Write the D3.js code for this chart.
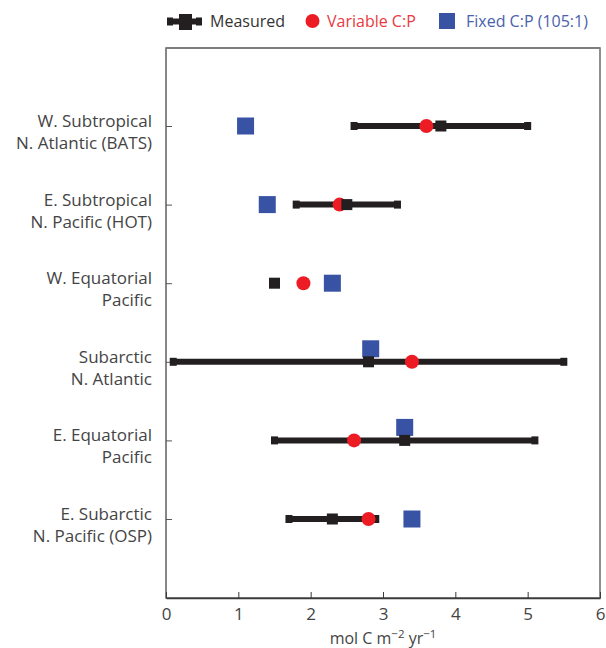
<!DOCTYPE html>
<html><head><meta charset="utf-8">
<script src="https://cdn.jsdelivr.net/npm/d3@7"></script>
<style>body{margin:0;background:#fff}svg{display:block}text{font-family:"Open Sans",sans-serif}</style>
</head><body><svg id="c" width="606" height="648"></svg>
<script>
const categories = [
  ["W. Subtropical","N. Atlantic (BATS)"],
  ["E. Subtropical","N. Pacific (HOT)"],
  ["W. Equatorial","Pacific"],
  ["Subarctic","N. Atlantic"],
  ["E. Equatorial","Pacific"],
  ["E. Subarctic","N. Pacific (OSP)"]
];
const measured    = [3.8, 2.5, 1.5, 2.8, 3.3, 2.3];
const measuredLow = [2.6, 1.8, null, 0.1, 1.5, 1.7];
const measuredHigh= [5.0, 3.2, null, 5.5, 5.1, 2.9];
const variableCP  = [3.6, 2.4, 1.9, 3.4, 2.6, 2.8];
const fixedCP     = [1.1, 1.4, 2.3, 2.83, 3.3, 3.4];
const xTicks = [0,1,2,3,4,5,6];
const seriesNames = ["Measured","Variable C:P","Fixed C:P (105:1)"];

const BLACK="#231f20", RED="#ed1c24", BLUE="#3953a4";
const svg = d3.select("#c");
const x = d3.scaleLinear().domain([0,6]).range([166,600]);
const keys = categories.map((c,i)=>i);
const y = d3.scalePoint().domain(keys).range([126,519]);
const plotTop=48, plotBottom=598;

// frame
svg.append("rect").attr("x",x(0)).attr("y",plotTop).attr("width",x(6)-x(0)).attr("height",plotBottom-plotTop)
  .attr("fill","none").attr("stroke","#3a3a3a").attr("stroke-width",1.3);
svg.append("line").attr("x1",x(0)).attr("x2",x(0)).attr("y1",plotTop).attr("y2",plotBottom).attr("stroke","#8a8a8a").attr("stroke-width",1.5);
svg.append("line").attr("x1",x(6)).attr("x2",x(6)).attr("y1",plotTop).attr("y2",plotBottom).attr("stroke","#9a9a9a").attr("stroke-width",1.2);

// x axis
const xa = svg.append("g").attr("transform",`translate(0,${plotBottom})`)
  .call(d3.axisBottom(x).tickValues(xTicks).tickSizeInner(-6).tickSizeOuter(0).tickPadding(10).tickFormat(d3.format("d")));
xa.select(".domain").attr("stroke","#3a3a3a").attr("stroke-width",1.3);
xa.selectAll(".tick line").attr("stroke","#3a3a3a");
xa.selectAll("text").attr("font-size",17).attr("fill","#444").attr("font-family","Open Sans");
const xt = svg.append("text").attr("x",383).attr("y",644).attr("text-anchor","middle").attr("font-size",16).attr("fill","#444");
xt.append("tspan").text("mol C m");
xt.append("tspan").attr("dy",-6).attr("font-size",11.5).text("\u22122");
xt.append("tspan").attr("dy",6).text(" yr");
xt.append("tspan").attr("dy",-6).attr("font-size",11.5).text("\u22121");

// y axis ticks
const ya = svg.append("g").attr("transform",`translate(${x(0)},0)`)
  .call(d3.axisRight(y).tickSizeInner(6).tickSizeOuter(0).tickFormat(""));
ya.select(".domain").remove();
ya.selectAll(".tick line").attr("stroke","#555");
// y labels
keys.forEach(i=>{
  const t = svg.append("text").attr("text-anchor","end").attr("font-size",17).attr("fill","#444");
  categories[i].forEach((s,j)=>t.append("tspan").attr("x",152).attr("y",y(i)+1+j*22).text(s));
});

// fixed C:P (blue) - nudged up when it coincides with measured
const bs=17;
svg.append("g").selectAll("rect").data(keys).join("rect")
  .attr("x",i=>x(fixedCP[i])-bs/2)
  .attr("y",i=>y(i)-bs/2-(Math.abs(fixedCP[i]-measured[i])<0.1?13:0))
  .attr("width",bs).attr("height",bs).attr("fill",BLUE);

// error bars
const eb = keys.filter(i=>measuredLow[i]!=null);
svg.append("g").selectAll("line").data(eb).join("line")
  .attr("x1",i=>x(measuredLow[i])).attr("x2",i=>x(measuredHigh[i]))
  .attr("y1",i=>y(i)).attr("y2",i=>y(i)).attr("stroke",BLACK).attr("stroke-width",6);
const caps=[];
eb.forEach(i=>{caps.push([i,measuredLow[i]]);caps.push([i,measuredHigh[i]]);});
svg.append("g").selectAll("rect").data(caps).join("rect")
  .attr("x",d=>x(d[1])-3.5).attr("y",d=>y(d[0])-4).attr("width",7).attr("height",8).attr("fill",BLACK);

// variable C:P (red)
svg.append("g").selectAll("circle").data(keys).join("circle")
  .attr("cx",i=>x(variableCP[i])).attr("cy",i=>y(i)).attr("r",7).attr("fill",RED);

// measured (black)
const ms=11;
svg.append("g").selectAll("rect").data(keys).join("rect")
  .attr("x",i=>x(measured[i])-ms/2).attr("y",i=>y(i)-ms/2)
  .attr("width",ms).attr("height",ms).attr("fill",BLACK);

// legend
const lg = svg.append("g");
lg.append("line").attr("x1",168).attr("x2",201).attr("y1",21.5).attr("y2",21.5).attr("stroke",BLACK).attr("stroke-width",6);
lg.append("rect").attr("x",167).attr("y",17.5).attr("width",6).attr("height",8).attr("fill",BLACK);
lg.append("rect").attr("x",196).attr("y",17.5).attr("width",6).attr("height",8).attr("fill",BLACK);
lg.append("rect").attr("x",179).attr("y",14).attr("width",13).attr("height",16).attr("fill",BLACK);
lg.append("text").attr("x",210).attr("y",27).attr("font-size",16).attr("fill","#333").text(seriesNames[0]);
lg.append("circle").attr("cx",312.5).attr("cy",21).attr("r",7).attr("fill",RED);
lg.append("text").attr("x",327).attr("y",27).attr("font-size",16).attr("fill","#e8393f").text(seriesNames[1]);
lg.append("rect").attr("x",439).attr("y",13).attr("width",16).attr("height",16).attr("fill",BLUE);
lg.append("text").attr("x",466).attr("y",27).attr("font-size",16).attr("fill","#4a62ad").text(seriesNames[2]);
</script></body></html>
